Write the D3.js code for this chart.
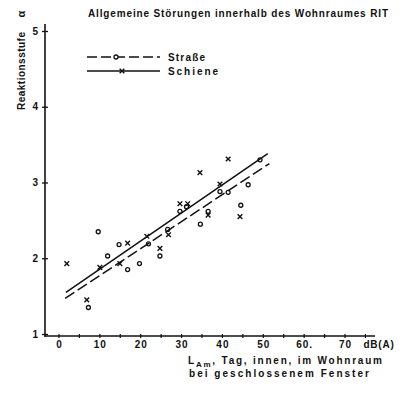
<!DOCTYPE html>
<html>
<head>
<meta charset="utf-8">
<script src="https://cdn.jsdelivr.net/npm/d3@7"></script>
<style>
  body { margin: 0; background: #fff; }
  svg { display: block; }
  text { font-family: "Liberation Sans", Arial, sans-serif; font-weight: bold; fill: #111; }
</style>
</head>
<body>
<svg id="chart" width="416" height="393"></svg>
<script>
// values
const xTicks = [0, 10, 20, 30, 40, 50, 60, 70];
const xTickLabels = ['0', '10', '20', '30', '40', '50', '60.', '70'];
const yTicks = [1, 2, 3, 4, 5];

// Straße (o)
const strasse = [
  [7.2, 1.35], [9.6, 2.35], [11.9, 2.03], [14.7, 2.18], [16.8, 1.85], [19.7, 1.93],
  [21.9, 2.19], [24.7, 2.03], [26.6, 2.38], [29.6, 2.62], [31.2, 2.68], [34.6, 2.45],
  [36.5, 2.62], [39.4, 2.88], [41.4, 2.87], [44.5, 2.70], [46.3, 2.97], [49.2, 3.30]
];
// Schiene (x)
const schiene = [
  [1.9, 1.93], [6.8, 1.45], [10.0, 1.88], [14.9, 1.93], [16.8, 2.20], [21.5, 2.29],
  [24.7, 2.13], [26.8, 2.31], [29.6, 2.72], [31.5, 2.72], [34.5, 3.13], [36.5, 2.57],
  [39.4, 2.98], [41.4, 3.31], [44.3, 2.55]
];
// regression lines (end points)
const strasseLine = [[1.5, 1.47], [51.5, 3.25]];
const schieneLine = [[1.7, 1.55], [51.1, 3.38]];

const svg = d3.select('#chart');
const ink = '#111';

const x = d3.scaleLinear().domain([0, 70]).range([59, 345]);
const y = d3.scaleLinear().domain([1, 5]).range([334, 31]);
const axisX0 = 45, axisY0 = 336;

// y axis
const yAxis = svg.append('g').attr('transform', `translate(${axisX0},0)`)
  .call(d3.axisLeft(y).tickValues(yTicks).tickSize(3).tickPadding(4).tickFormat(d3.format('d')));
yAxis.select('.domain').remove();
yAxis.selectAll('.tick line').attr('stroke', ink).attr('stroke-width', 1.3).attr('x2', 3).attr('x1', -3);
yAxis.selectAll('.tick text').attr('font-size', 10).attr('font-family', null);
svg.append('line').attr('x1', axisX0).attr('x2', axisX0).attr('y1', 24).attr('y2', axisY0 + 1)
  .attr('stroke', ink).attr('stroke-width', 1.6);

// x axis
const xAxis = svg.append('g').attr('transform', `translate(0,${axisY0})`)
  .call(d3.axisBottom(x).tickValues(xTicks).tickSize(0).tickPadding(5)
    .tickFormat((d, i) => xTickLabels[i]));
xAxis.select('.domain').remove();
xAxis.selectAll('.tick text').attr('font-size', 10).attr('letter-spacing', 1)
  .attr('font-family', null);
svg.append('line').attr('x1', axisX0).attr('x2', 375).attr('y1', axisY0).attr('y2', axisY0)
  .attr('stroke', ink).attr('stroke-width', 1.6);
svg.append('g').selectAll('line').data(d3.range(0, 80, 5)).join('line')
  .attr('x1', d => x(d)).attr('x2', d => x(d))
  .attr('y1', axisY0 - 2).attr('y2', axisY0 + 2)
  .attr('stroke', ink).attr('stroke-width', 1.2);

svg.append('text').attr('x', 379).attr('y', axisY0 + 12).attr('text-anchor', 'middle')
  .attr('font-size', 10).attr('letter-spacing', 0.8).text('dB(A)');

// x title
const xt = svg.append('text').attr('x', 188).attr('y', 364).attr('font-size', 10)
  .attr('textLength', 194).attr('lengthAdjust', 'spacing');
xt.append('tspan').text('L');
xt.append('tspan').attr('font-size', 8).attr('dy', 3).text('Am');
xt.append('tspan').attr('dy', -3).text(', Tag, innen, im Wohnraum');
svg.append('text').attr('x', 189).attr('y', 377).attr('font-size', 10)
  .attr('textLength', 180).attr('lengthAdjust', 'spacing').text('bei geschlossenem Fenster');

// y title
svg.append('text').attr('transform', 'translate(25,71) rotate(-90)').attr('text-anchor', 'middle')
  .attr('font-size', 10).attr('textLength', 78).attr('lengthAdjust', 'spacing')
  .text('Reaktionsstufe');
svg.append('text').attr('transform', 'translate(25,14) rotate(-90)').attr('text-anchor', 'middle')
  .attr('font-size', 11).text('α');

// chart title
svg.append('text').attr('x', 88).attr('y', 17).attr('font-size', 10)
  .attr('textLength', 300).attr('lengthAdjust', 'spacing')
  .text('Allgemeine Störungen innerhalb des Wohnraumes  RIT');

// regression lines
const line = d3.line().x(d => x(d[0])).y(d => y(d[1]));
svg.append('path').attr('d', line(schieneLine)).attr('fill', 'none')
  .attr('stroke', ink).attr('stroke-width', 1.5);
svg.append('path').attr('d', line(strasseLine)).attr('fill', 'none')
  .attr('stroke', ink).attr('stroke-width', 1.5).attr('stroke-dasharray', '11,4');

// markers
const cross = d3.symbol().type(d3.symbolTimes).size(16);
svg.append('g').selectAll('circle').data(strasse).join('circle')
  .attr('cx', d => x(d[0])).attr('cy', d => y(d[1])).attr('r', 2)
  .attr('fill', 'none').attr('stroke', ink).attr('stroke-width', 1.3);
svg.append('g').selectAll('path').data(schiene).join('path')
  .attr('transform', d => `translate(${x(d[0])},${y(d[1])})`).attr('d', cross)
  .attr('fill', 'none').attr('stroke', ink).attr('stroke-width', 1.4);

// legend
const leg = svg.append('g');
leg.append('line').attr('x1', 87).attr('x2', 160).attr('y1', 57).attr('y2', 57)
  .attr('stroke', ink).attr('stroke-width', 1.5).attr('stroke-dasharray', '10,4');
leg.append('circle').attr('cx', 116).attr('cy', 57).attr('r', 2)
  .attr('fill', '#fff').attr('stroke', ink).attr('stroke-width', 1.3);
leg.append('text').attr('x', 168).attr('y', 61).attr('font-size', 10)
  .attr('textLength', 37).attr('lengthAdjust', 'spacing').text('Straße');
leg.append('line').attr('x1', 87).attr('x2', 160).attr('y1', 71).attr('y2', 71)
  .attr('stroke', ink).attr('stroke-width', 1.5);
leg.append('path').attr('transform', 'translate(122,71)').attr('d', cross)
  .attr('fill', 'none').attr('stroke', ink).attr('stroke-width', 1.4);
leg.append('text').attr('x', 168).attr('y', 75).attr('font-size', 10)
  .attr('textLength', 50).attr('lengthAdjust', 'spacing').text('Schiene');
</script>
</body>
</html>
